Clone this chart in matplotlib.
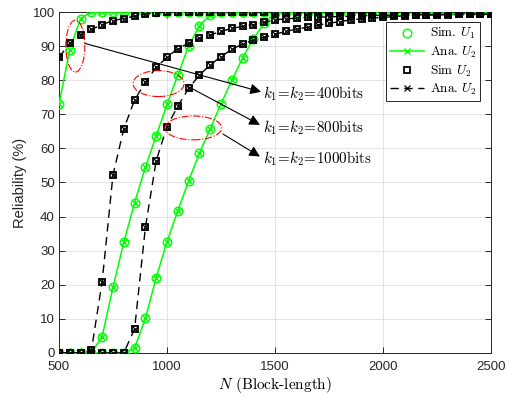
import matplotlib
matplotlib.use("Agg")
import matplotlib.pyplot as plt
from matplotlib.patches import Ellipse

plt.rcParams['font.family'] = ['Liberation Sans', 'DejaVu Sans']
plt.rcParams['mathtext.fontset'] = 'cm'

# block length N
N = [500, 550, 600, 650, 700, 750, 800, 850, 900, 950,
     1000, 1050, 1100, 1150, 1200, 1250, 1300, 1350, 1400, 1450,
     1500, 1550, 1600, 1650, 1700, 1750, 1800, 1850, 1900, 1950,
     2000, 2050, 2100, 2150, 2200, 2250, 2300, 2350, 2400, 2450, 2500]

# reliability (%) of U1, k1=k2=400/800/1000 bits
u1_400 = [72.9, 88.9, 98.1] + [100] * 38
u1_800 = [0, 0, 0, 0, 4.8, 19.2, 32.4, 44.1, 54.4, 63.7,
          72.9, 81.5, 90.0, 96.0, 99.2] + [100] * 26
u1_1000 = [0, 0, 0, 0, 0, 0, 0, 1.4, 10.1, 22.1,
           32.6, 41.7, 50.4, 58.7, 65.7, 73.1, 80.0, 86.6, 92.2, 96.7,
           99.7] + [100] * 20

# reliability (%) of U2
u2_400 = [86.7, 90.8, 93.4, 94.9, 96.3, 97.5, 98.1, 98.8, 99.5, 99.8] + [100] * 31
u2_800 = [0, 0, 0, 0.7, 20.9, 52.2, 65.7, 74.2, 79.4, 83.8,
          86.7, 89.3, 90.8, 92.3, 93.3, 94.3, 95.2, 95.8, 96.3, 97.0,
          97.7, 98.0, 98.2, 98.4, 98.5, 98.6, 98.7, 98.8, 98.9, 99.0,
          99.0, 99.1, 99.1, 99.2, 99.2, 99.3, 99.3, 99.4, 99.4, 99.5, 99.5]
u2_1000 = [0, 0, 0, 0, 0, 0, 0, 7.0, 36.8, 56.4,
           66.4, 72.4, 77.6, 81.5, 84.5, 86.9, 89.1, 90.6, 91.8, 92.6,
           93.5, 94.3, 95.0, 95.5, 96.2, 96.7, 97.2, 97.7, 98.0, 98.2,
           98.4, 98.7, 98.9, 99.0, 99.1, 99.2, 99.2, 99.3, 99.3, 99.4, 99.4]

u1_curves = [u1_400, u1_800, u1_1000]
u2_curves = [u2_400, u2_800, u2_1000]

green = '#00ff00'
fig = plt.figure(figsize=(5.08, 4.01), dpi=100)
ax = fig.add_axes([0.116, 0.120, 0.851, 0.850])

for i, y in enumerate(u1_curves):
    ax.plot(N, y, linestyle='none', marker='o', markersize=6.2, markerfacecolor='none',
            markeredgecolor=green, markeredgewidth=1.0, label='Sim. $U_1$' if i == 0 else None, zorder=3)
for i, y in enumerate(u1_curves):
    ax.plot(N, y, '-', color=green, lw=1.1, marker='x', markersize=4.2, markeredgewidth=1.0,
            label='Ana. $U_2$' if i == 0 else None, zorder=3)
for i, y in enumerate(u2_curves):
    ax.plot(N, y, linestyle='none', marker='s', markersize=4.6, markerfacecolor='none',
            markeredgecolor='k', markeredgewidth=1.3, label='Sim $U_2$' if i == 0 else None, zorder=4)
for i, y in enumerate(u2_curves):
    ax.plot(N, y, color='k', linestyle=(0, (6, 4)), lw=1.0, marker='x', markersize=3.8,
            markeredgewidth=0.9, label='Ana. $U_2$' if i == 0 else None, zorder=4)

# red dash-dot ellipses
for (cx, cy, w, h) in [(576, 90, 88, 15.2), (961, 79, 236, 7.6), (1122, 66, 262, 7.0)]:
    ax.add_patch(Ellipse((cx, cy), w, h, fill=False, edgecolor='red', linestyle='-.', lw=0.8, zorder=5))

# arrows + labels
arr = dict(arrowstyle='-|>', mutation_scale=16, lw=0.8, color='k', shrinkA=0, shrinkB=0)
for (x0, y0, x1, y1, txt) in [(620, 90.8, 1435, 76.6, '400'), (1093, 78.3, 1430, 66.9, '800'),
                              (1259, 64.2, 1430, 57.6, '1000')]:
    ax.annotate('', xy=(x1, y1), xytext=(x0, y0), arrowprops=arr, zorder=6)
    ax.text(1444, y1 - 0.7, r'$k_1\!=\!k_2\!=\!%s\mathrm{bits}$' % txt, fontsize=10.8, va='center', ha='left')

ax.set_xlim(500, 2500)
ax.set_ylim(0, 100)
ax.set_xticks([500, 1000, 1500, 2000, 2500])
ax.set_yticks(range(0, 101, 10))
ax.grid(True, color='#e3e3e3', lw=0.7)
ax.set_axisbelow(True)
ax.tick_params(direction='in', length=4, width=0.7, top=True, right=True, labelsize=9.5,
               colors='#262626', labelcolor='#262626')
ax.tick_params(axis='x', pad=6)
ax.tick_params(axis='y', pad=3)
for s in ax.spines.values():
    s.set_color('#262626')
    s.set_linewidth(0.7)

ax.set_xlabel('$N$ (Block-length)', fontsize=11, family='cmr10', labelpad=1)
ax.set_ylabel('Reliability (%)', fontsize=10.5, color='#262626', labelpad=4)

leg = ax.legend(loc='upper right', bbox_to_anchor=(0.975, 0.97), prop={'family': 'cmr10', 'size': 9.5},
                handlelength=2.6, fancybox=False, framealpha=1, edgecolor='#262626',
                borderpad=0.3, labelspacing=0.25, handletextpad=0.4, borderaxespad=0)
leg.get_frame().set_linewidth(0.7)

fig.savefig('out.png', dpi=100)
